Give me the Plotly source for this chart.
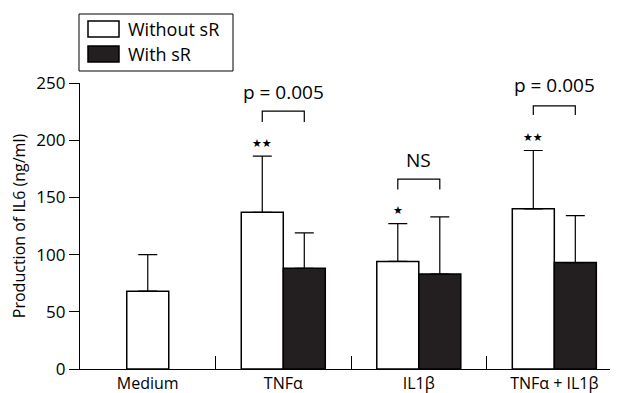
import plotly.graph_objects as go

categories = ["Medium", "TNFα", "IL1β", "TNFα + IL1β"]
without_sr = [68, 137, 94, 140]
without_sr_err_top = [100, 186, 127, 191]
with_sr_cats = ["TNFα", "IL1β", "TNFα + IL1β"]
with_sr = [88, 83, 93]
with_sr_err_top = [119, 133, 134]
y_ticks = [0, 50, 100, 150, 200, 250]

# significance annotations: (category index, label, label y, bracket top, bracket leg bottom)
comparisons = [(1, "p = 0.005", 242, 225.5, 216), (2, "NS", 183, 166, 157), (3, "p = 0.005", 248, 230, 222)]
stars = [(1, "★★"), (2, "★"), (3, "★★")]

BW = 0.31
FONT = "Open Sans"
BLACK = "#231f20"

fig = go.Figure()
offs_white = [-BW / 2 if c == "Medium" else -BW for c in categories]
fig.add_trace(go.Bar(
    x=categories, y=without_sr, width=BW, offset=offs_white, name="Without sR",
    marker=dict(color="white", line=dict(color="black", width=1.5)),
    error_y=dict(type="data", symmetric=False,
                 array=[t - v for t, v in zip(without_sr_err_top, without_sr)],
                 arrayminus=[0] * len(without_sr), color="black", thickness=1.2, width=9.5),
    showlegend=False,
))
fig.add_trace(go.Bar(
    x=with_sr_cats, y=with_sr, width=BW, offset=0, name="With sR",
    marker=dict(color=BLACK, line=dict(color="black", width=1.5)),
    error_y=dict(type="data", symmetric=False,
                 array=[t - v for t, v in zip(with_sr_err_top, with_sr)],
                 arrayminus=[0] * len(with_sr), color="black", thickness=1.2, width=9.5),
    showlegend=False,
))

shapes = []
annotations = []
for idx, label, ly, top, leg in comparisons:
    x0, x1 = idx - BW / 2, idx + BW / 2
    shapes.append(dict(type="path", xref="x", yref="y",
                       path=f"M {x0} {leg} L {x0} {top} L {x1} {top} L {x1} {leg}",
                       line=dict(color="black", width=1.2)))
    annotations.append(dict(x=idx, y=ly, xref="x", yref="y", text=label, showarrow=False,
                            font=dict(size=19, color="black", family=FONT)))
for idx, s in stars:
    annotations.append(dict(x=idx - BW / 2, y=without_sr_err_top[idx], xref="x", yref="y",
                            text=s, showarrow=False, yanchor="middle", yshift=13,
                            font=dict(size=11, color="black", family="DejaVu Sans")))

# page offset of the plot div inside the browser (default body margin)
OFF = 8
W, H = 618 - OFF, 393 - OFF
PL, PR, PT, PB = 80, 618, 83, 369  # plot area in window pixels
pw, ph = PR - PL, PB - PT

def px(x):
    return (x - PL) / pw

def py(y):
    return (PB - y) / ph

shapes.append(dict(type="rect", xref="paper", yref="paper", x0=px(79), x1=px(233), y0=py(71), y1=py(14),
                   line=dict(color="black", width=1), fillcolor="white"))
shapes.append(dict(type="rect", xref="paper", yref="paper", x0=px(88), x1=px(119), y0=py(37), y1=py(21),
                   line=dict(color="black", width=1.5), fillcolor="white"))
shapes.append(dict(type="rect", xref="paper", yref="paper", x0=px(88), x1=px(119), y0=py(62), y1=py(46),
                   line=dict(color="black", width=1.5), fillcolor=BLACK))
annotations.append(dict(x=px(126), y=py(29), xref="paper", yref="paper", text="Without sR", showarrow=False,
                        xanchor="left", yanchor="middle", font=dict(size=18, color="black", family=FONT)))
annotations.append(dict(x=px(126), y=py(54), xref="paper", yref="paper", text="With sR", showarrow=False,
                        xanchor="left", yanchor="middle", font=dict(size=18, color="black", family=FONT)))

fig.update_layout(
    width=W, height=H,
    margin=dict(l=PL - OFF, r=(618 - PR), t=PT - OFF, b=393 - PB, autoexpand=False),
    plot_bgcolor="white", paper_bgcolor="white",
    barmode="overlay", shapes=shapes, annotations=annotations,
    font=dict(family=FONT, color="black"),
)
fig.update_xaxes(type="category", categoryorder="array", categoryarray=categories,
                 range=[-0.5, 3.47], showline=True, linecolor="black", linewidth=1.2,
                 tickson="boundaries", ticks="inside", ticklen=13, tickcolor="black", tickwidth=1,
                 showgrid=False, tickfont=dict(size=16, family=FONT, color="black"), automargin=False)
fig.update_yaxes(range=[0, 250], tickvals=y_ticks, showline=True, linecolor="black", linewidth=1.2,
                 ticks="outside", ticklen=10, tickcolor="black", tickwidth=1, showgrid=False, zeroline=False,
                 tickfont=dict(size=17, family=FONT, color="black"), automargin=False,
                 title=dict(text="Production of IL6 (ng/ml)", font=dict(size=16, family=FONT, color="black"),
                            standoff=10))
fig.write_html("out.html")
